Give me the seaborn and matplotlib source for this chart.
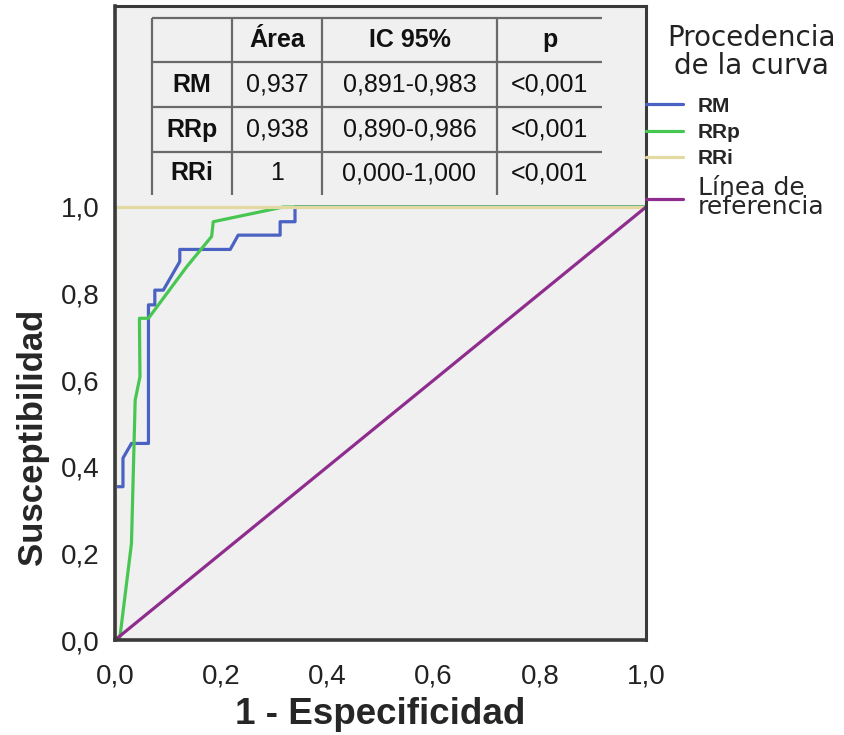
import matplotlib
matplotlib.use("Agg")
import matplotlib.pyplot as plt
from matplotlib.lines import Line2D
import seaborn as sns
import pandas as pd

# ROC curve points (1 - especificidad, susceptibilidad)
rm_fpr = [0.0, 0.0, 0.015, 0.015, 0.031, 0.063, 0.063, 0.075, 0.075, 0.091,
          0.122, 0.122, 0.217, 0.232, 0.311, 0.311, 0.339, 0.339, 1.0]
rm_tpr = [0.0, 0.354, 0.354, 0.420, 0.454, 0.454, 0.774, 0.774, 0.808, 0.808,
          0.874, 0.902, 0.902, 0.935, 0.935, 0.966, 0.966, 1.0, 1.0]
rrp_fpr = [0.0, 0.009, 0.031, 0.038, 0.047, 0.046, 0.063, 0.135, 0.182, 0.185, 0.317, 1.0]
rrp_tpr = [0.0, 0.004, 0.223, 0.554, 0.608, 0.743, 0.743, 0.862, 0.932, 0.966, 1.0, 1.0]
rri_fpr = [0.0, 0.0, 1.0]
rri_tpr = [0.0, 1.0, 1.0]
ref_fpr = [0.0, 1.0]
ref_tpr = [0.0, 1.0]

curve_names = ['RM', 'RRp', 'RRi', 'Línea de referencia']
colors = ['#4a62c2', '#47c752', '#e3d9a3', '#8e2d8e']

# summary table
tab_header = ['', 'Área', 'IC 95%', 'p']
tab_rows = [['RM', '0,937', '0,891-0,983', '<0,001'],
            ['RRp', '0,938', '0,890-0,986', '<0,001'],
            ['RRi', '1', '0,000-1,000', '<0,001']]

df = pd.concat([
    pd.DataFrame({'fpr': rm_fpr, 'tpr': rm_tpr, 'Curva': 'RM'}),
    pd.DataFrame({'fpr': rrp_fpr, 'tpr': rrp_tpr, 'Curva': 'RRp'}),
    pd.DataFrame({'fpr': rri_fpr, 'tpr': rri_tpr, 'Curva': 'RRi'}),
    pd.DataFrame({'fpr': ref_fpr, 'tpr': ref_tpr, 'Curva': 'Línea de referencia'}),
], ignore_index=True)

sns.set_style("white")
plt.rcParams['font.family'] = ['Liberation Sans', 'DejaVu Sans']

fig = plt.figure(figsize=(8.45, 7.35), dpi=100)
ax = fig.add_axes([115 / 845, 95 / 735, 531 / 845, 634 / 735])
ax.set_facecolor('#f0f0f0')

for name, col in zip(curve_names, colors):
    sns.lineplot(data=df[df['Curva'] == name], x='fpr', y='tpr', ax=ax,
                 color=col, lw=2.3, sort=False, estimator=None, legend=False)

ax.set_xlim(0, 1)
ax.set_ylim(0, 634 / 433)
ax.set_xticks([0, 0.2, 0.4, 0.6, 0.8, 1.0])
ax.set_yticks([0, 0.2, 0.4, 0.6, 0.8, 1.0])
ax.set_xticklabels(['0,0', '0,2', '0,4', '0,6', '0,8', '1,0'])
ax.set_yticklabels(['0,0', '0,2', '0,4', '0,6', '0,8', '1,0'])
ax.tick_params(axis='both', direction='out', length=9, width=2, color='#2a2a2a',
               labelsize=20, labelcolor='#222222')
ax.tick_params(axis='y', pad=2)
ax.tick_params(axis='x', pad=8)
for s in ax.spines.values():
    s.set_color('#3a3a3a')
    s.set_linewidth(2.2)
ax.spines['left'].set_linewidth(2.6)
ax.spines['bottom'].set_linewidth(2.6)

ax.set_xlabel('1 - Especificidad', fontsize=26.5, fontweight='bold', labelpad=5)
ax.set_ylabel('Susceptibilidad', fontsize=25, fontweight='bold')
ax.yaxis.set_label_coords(-0.124, 0.32)

# table drawn inside the plot area, above y = 1
def px_x(p):
    return (p - 115) / 531

def px_y(p):
    return (640 - p) / 433

col_edges = [152, 232, 322, 497, 602]
row_edges = [18, 62, 107, 152, 195]
lc = '#6a6a6a'
for xe in col_edges[:-1]:
    ax.plot([px_x(xe), px_x(xe)], [px_y(row_edges[0]), px_y(row_edges[-1])],
            color=lc, lw=1.6, solid_capstyle='butt')
for ye in row_edges[:-1]:
    ax.plot([px_x(col_edges[0]), px_x(col_edges[-1])], [px_y(ye), px_y(ye)],
            color=lc, lw=1.6, solid_capstyle='butt')

cell_x = [(col_edges[i] + col_edges[i + 1]) / 2 for i in range(4)]
cell_y = [(row_edges[i] + row_edges[i + 1]) / 2 for i in range(4)]
for j, txt in enumerate(tab_header):
    ax.text(px_x(cell_x[j]), px_y(cell_y[0]), txt, ha='center', va='center',
            fontsize=18, fontweight='bold', color='#111111')
for i, row in enumerate(tab_rows):
    for j, txt in enumerate(row):
        ax.text(px_x(cell_x[j]), px_y(cell_y[i + 1]), txt, ha='center', va='center',
                fontsize=18, fontweight='bold' if j == 0 else 'normal', color='#111111')

# legend title on its own, legend entries below it
fig.text(751 / 845, 1 - 52 / 735, 'Procedencia\nde la curva', ha='center', va='center',
         multialignment='center', fontsize=20, family='DejaVu Sans',
         linespacing=1.0, color='#222222')

handles = [Line2D([], [], color=c, lw=2.3) for c in colors]
leg = ax.legend(handles, ['RM', 'RRp', 'RRi', 'Línea de\nreferencia'],
                loc='upper left', bbox_to_anchor=(1.0, 0.857), frameon=False,
                borderpad=0, borderaxespad=0, handlelength=1.78, handletextpad=0.72,
                labelspacing=0.35, prop={'size': 15, 'weight': 'bold'})
last = leg.get_texts()[-1]
last.set_fontsize(18)
last.set_fontweight('normal')
last.set_family('DejaVu Sans')
last.set_linespacing(0.75)

fig.savefig('out.png', dpi=100)
